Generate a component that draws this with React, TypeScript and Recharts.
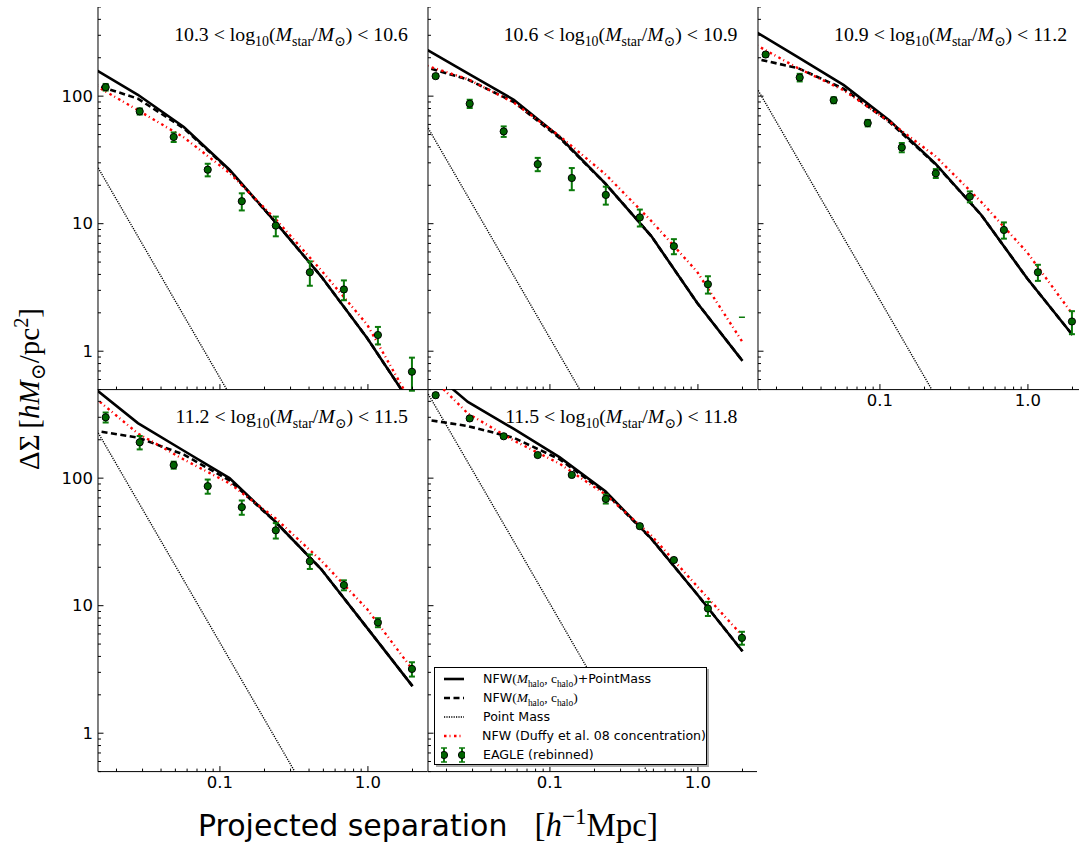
import React from 'react';
import { ComposedChart, Line, Scatter, XAxis, YAxis, ErrorBar } from 'recharts';

// ---------- data ----------
const MODEL_R = [0.0137, 0.0279, 0.057, 0.116, 0.237, 0.484, 0.987, 2.0];
const DATA_R = [0.0169, 0.0287, 0.0487, 0.0827, 0.1405, 0.2385, 0.405, 0.688, 1.168, 1.983];

const BIN_LOW = ['10.3', '10.6', '10.9', '11.2', '11.5'];
const BIN_HIGH = ['10.6', '10.9', '11.2', '11.5', '11.8'];

const P1_SOLID = [167, 102.5, 57.3, 26.5, 10.3, 3.85, 1.27, 0.37];
const P1_DASHED = [125, 95.6, 56, 26.2, 10.3, 3.85, 1.27, 0.37];
const P1_PM = [33.0, 7.95, 1.9, 0.46, 0.11];
const P1_DUFFY = [125, 77.6, 47.5, 25, 10.9, 4.3, 1.62, 0.38];
const P1_EAGLE = [117.6, 75.9, 47.8, 26.5, 15.0, 9.66, 4.16, 3.05, 1.34, 0.69];
const P1_ERR = [7, 4.2, 4.1, 3.0, 2.3, 1.7, 0.9, 0.54, 0.21, 0.2];

const P2_SOLID = [243, 150.6, 93.7, 48, 20.6, 8.0, 2.4, 0.84];
const P2_DASHED = [172, 135, 90, 47, 20.6, 8.0, 2.4, 0.84];
const P2_PM = [67.6, 16.3, 3.9, 0.94, 0.226];
const P2_DUFFY = [178, 136, 89, 48.8, 24.4, 10.5, 4.2, 1.18];
const P2_EAGLE = [143.5, 87.2, 52.9, 29.3, 22.8, 16.8, 11.2, 6.66, 3.35];
const P2_ERR = [5, 6.5, 5, 3.5, 4.5, 2.7, 1.7, 0.9, 0.52];
const P2_CAP = [{ x: 1.983, y: 1.85 }];

const P3_SOLID = [333, 202, 122, 64.5, 29.5, 11.7, 3.73, 1.34];
const P3_DASHED = [199, 166, 114, 62.6, 29.3, 11.7, 3.73, 1.34];
const P3_PM = [133.7, 32.2, 7.7, 1.87, 0.447];
const P3_DUFFY = [262, 166, 111, 63, 33.8, 14.8, 5.96, 1.95];
const P3_EAGLE = [212, 140, 93, 61.5, 39.6, 24.8, 16.3, 8.93, 4.16, 1.71];
const P3_ERR = [7, 9.6, 5, 3.6, 3.3, 2.0, 1.6, 1.3, 0.6, 0.35];

const P4_SOLID = [524, 270, 164, 100, 45.5, 19.3, 6.7, 2.34];
const P4_DASHED = [237, 208, 153, 96, 45.5, 19.3, 6.7, 2.34];
const P4_PM = [273, 65.9, 15.8, 3.81, 0.913, 0.219];
const P4_DUFFY = [445, 224, 140, 91, 48.5, 22.5, 9.4, 3.15];
const P4_EAGLE = [300, 191, 126.6, 86.5, 59.2, 39, 22.3, 14.5, 7.38, 3.19];
const P4_ERR = [27, 23, 8, 11, 7.6, 5.4, 2.9, 1.3, 0.6, 0.41];

const P5_SOLID = [795, 396, 243, 146, 79, 33.5, 12.3, 4.39];
const P5_DASHED = [291, 256, 207, 141, 77, 33.5, 12.3, 4.39];
const P5_PM = [551, 133, 31.9, 7.69, 1.84, 0.44];
const P5_DUFFY = [733, 321, 197, 130, 74.5, 35.5, 14.2, 5.8];
const P5_EAGLE = [447, 294, 213, 151.7, 106, 68.7, 42, 22.8, 9.5, 5.59];
const P5_ERR = [15, 10, 7, 5, 4, 5.5, 1.5, 0.8, 1.2, 0.65];

const X_TICKS = [0.02, 0.03, 0.04, 0.05, 0.06, 0.07, 0.08, 0.09, 0.1, 0.2, 0.3, 0.4, 0.5, 0.6, 0.7, 0.8, 0.9, 1, 2];
const X_MAJOR = [0.1, 1];
const X_MAJOR_LABELS = ['0.1', '1.0'];
const Y_TICKS = [0.5, 0.6, 0.7, 0.8, 0.9, 1, 2, 3, 4, 5, 6, 7, 8, 9, 10, 20, 30, 40, 50, 60, 70, 80, 90, 100, 200, 300, 400, 500];
const Y_MAJOR = [1, 10, 100];
const Y_MAJOR_LABELS = ['1', '10', '100'];

const X_DOMAIN = [0.015, 2.53];
const Y_DOMAIN = [0.5, 500];

// ---------- layout ----------
const COL_LEFT = [98.3, 427.9, 757.5];
const COL_W = 329.6;
const ROW_TOP = [6.5, 389.1];
const ROW_H = 382.6;
const AXW = 60;
const AXH = 30;

const TICK_FONT = "'DejaVu Sans', sans-serif";
const SERIF = "'Liberation Serif', 'DejaVu Serif', serif";

const toPts = (xs: number[], ys: number[]) => ys.map((y, i) => ({ x: xs[i], y }));
const toEagle = (ys: number[], es: number[]) => ys.map((y, i) => ({ x: DATA_R[i], y, err: es[i] }));

const XTick = (props: any) => {
  const { x, y, payload, side, showLabel } = props;
  const v = payload.value;
  const mi = X_MAJOR.findIndex((m) => Math.abs(m - v) < 1e-9);
  const len = mi >= 0 ? 5.5 : 3;
  const dir = side === 'bottom' ? -1 : 1;
  return (
    <g>
      <line x1={x} x2={x} y1={y} y2={y + dir * len} stroke="#000" strokeWidth={1} />
      {showLabel && mi >= 0 && (
        <text x={x} y={y + 11} textAnchor="middle" dominantBaseline="central" fontFamily={TICK_FONT} fontSize={16.5} fill="#000">
          {X_MAJOR_LABELS[mi]}
        </text>
      )}
    </g>
  );
};

const YTick = (props: any) => {
  const { x, y, payload, side, showLabel } = props;
  const v = payload.value;
  const mi = Y_MAJOR.findIndex((m) => Math.abs(m - v) < 1e-9);
  const len = mi >= 0 ? 5.5 : 3;
  const dir = side === 'left' ? 1 : -1;
  return (
    <g>
      <line x1={x} x2={x + dir * len} y1={y} y2={y} stroke="#000" strokeWidth={1} />
      {showLabel && mi >= 0 && (
        <text x={x - 5} y={y} textAnchor="end" dominantBaseline="central" fontFamily={TICK_FONT} fontSize={16.5} fill="#000">
          {Y_MAJOR_LABELS[mi]}
        </text>
      )}
    </g>
  );
};

const Dot = (p: any) => <circle cx={p.cx} cy={p.cy} r={3.6} fill="#006400" stroke="#000" strokeWidth={1} />;
const Cap = (p: any) => <line x1={p.cx - 3} x2={p.cx + 3} y1={p.cy} y2={p.cy} stroke="#0b7a0b" strokeWidth={1.5} />;

type PanelProps = {
  col: number;
  row: number;
  solid: number[];
  dashed: number[];
  pm: number[];
  duffy: number[];
  eagle: number[];
  err: number[];
  cap?: { x: number; y: number }[];
  showX: boolean;
  showY: boolean;
};

function Panel(props: PanelProps) {
  const { col, row, solid, dashed, pm, duffy, eagle, err, cap, showX, showY } = props;
  const left = COL_LEFT[col];
  const top = ROW_TOP[row];
  return (
    <div style={{ position: 'absolute', left: left - AXW, top }}>
      <ComposedChart width={AXW + COL_W} height={ROW_H + AXH} margin={{ top: 0, right: 0, bottom: 0, left: 0 }}>
        <XAxis
          xAxisId="b"
          type="number"
          dataKey="x"
          scale="log"
          domain={X_DOMAIN}
          allowDataOverflow
          ticks={X_TICKS}
          interval={0}
          tickSize={0}
          tickMargin={0}
          height={AXH}
          orientation="bottom"
          axisLine={{ stroke: '#000', strokeWidth: 1 }}
          tickLine={false}
          tick={(p: any) => <XTick {...p} side="bottom" showLabel={showX} />}
        />
        <XAxis
          xAxisId="t"
          type="number"
          dataKey="x"
          scale="log"
          domain={X_DOMAIN}
          allowDataOverflow
          ticks={X_TICKS}
          interval={0}
          tickSize={0}
          tickMargin={0}
          height={0}
          orientation="top"
          axisLine={{ stroke: '#000', strokeWidth: 1 }}
          tickLine={false}
          tick={(p: any) => <XTick {...p} side="top" showLabel={false} />}
        />
        <YAxis
          yAxisId="l"
          type="number"
          dataKey="y"
          scale="log"
          domain={Y_DOMAIN}
          allowDataOverflow
          ticks={Y_TICKS}
          interval={0}
          tickSize={0}
          tickMargin={0}
          width={AXW}
          orientation="left"
          axisLine={{ stroke: '#000', strokeWidth: 1 }}
          tickLine={false}
          tick={(p: any) => <YTick {...p} side="left" showLabel={showY} />}
        />
        <YAxis
          yAxisId="r"
          type="number"
          dataKey="y"
          scale="log"
          domain={Y_DOMAIN}
          allowDataOverflow
          ticks={Y_TICKS}
          interval={0}
          tickSize={0}
          tickMargin={0}
          width={0}
          orientation="right"
          axisLine={{ stroke: '#000', strokeWidth: 1 }}
          tickLine={false}
          tick={(p: any) => <YTick {...p} side="right" showLabel={false} />}
        />
        <Line xAxisId="b" yAxisId="l" data={toPts(MODEL_R, solid)} dataKey="y" type="linear" stroke="#000" strokeWidth={2.6} dot={false} isAnimationActive={false} />
        <Line xAxisId="b" yAxisId="l" data={toPts(MODEL_R, dashed)} dataKey="y" type="linear" stroke="#000" strokeWidth={2.6} strokeDasharray="6 3.5" dot={false} isAnimationActive={false} />
        <Line xAxisId="b" yAxisId="l" data={toPts(MODEL_R, pm)} dataKey="y" type="linear" stroke="#000" strokeWidth={1.4} strokeDasharray="1.2 1.2" dot={false} isAnimationActive={false} />
        <Line xAxisId="b" yAxisId="l" data={toPts(MODEL_R, duffy)} dataKey="y" type="linear" stroke="#ff0000" strokeWidth={2.4} strokeDasharray="2.5 3 1 3.5" dot={false} isAnimationActive={false} />
        <Scatter xAxisId="b" yAxisId="l" data={toEagle(eagle, err)} dataKey="y" shape={Dot} isAnimationActive={false}>
          <ErrorBar dataKey="err" direction="y" width={3} stroke="#0b7a0b" strokeWidth={2} isAnimationActive={false} />
        </Scatter>
        {cap && <Scatter xAxisId="b" yAxisId="l" data={cap} dataKey="y" shape={Cap} isAnimationActive={false} />}
      </ComposedChart>
    </div>
  );
}

const subS = { fontSize: '0.7em', lineHeight: 0 } as React.CSSProperties;

const Annotation = ({ col, row, i }: { col: number; row: number; i: number }) => {
  const right = COL_LEFT[col] + COL_W - 20;
  const cy = ROW_TOP[row] + 27;
  return (
    <div
      style={{
        position: 'absolute',
        right: 1079 - right,
        top: cy - 13,
        height: 26,
        lineHeight: '26px',
        fontFamily: SERIF,
        fontSize: 19.8,
        whiteSpace: 'nowrap',
        color: '#000',
      }}
    >
      {BIN_LOW[i]} &lt; log<sub style={subS}>10</sub>(<i>M</i>
      <sub style={subS}>star</sub>/<i>M</i>
      <sub style={subS}>⊙</sub>) &lt; {BIN_HIGH[i]}
    </div>
  );
};

const Swatch = ({ kind }: { kind: string }) => {
  if (kind === 'eagle') {
    return (
      <svg width={24} height={16} style={{ display: 'block' }}>
        {[3, 21].map((cx) => (
          <g key={cx}>
            <line x1={cx} x2={cx} y1={1} y2={15} stroke="#0b7a0b" strokeWidth={2} />
            <line x1={cx - 3} x2={cx + 3} y1={1} y2={1} stroke="#0b7a0b" strokeWidth={1.5} />
            <line x1={cx - 3} x2={cx + 3} y1={15} y2={15} stroke="#0b7a0b" strokeWidth={1.5} />
            <circle cx={cx} cy={8} r={3.6} fill="#006400" stroke="#000" strokeWidth={1} />
          </g>
        ))}
      </svg>
    );
  }
  const style: any = {
    solid: { stroke: '#000', strokeWidth: 2.6 },
    dashed: { stroke: '#000', strokeWidth: 2.6, strokeDasharray: '6 3.5' },
    pm: { stroke: '#000', strokeWidth: 1.4, strokeDasharray: '1.2 1.2' },
    duffy: { stroke: '#ff0000', strokeWidth: 2.4, strokeDasharray: '2.5 3 1 3.5' },
  }[kind];
  return (
    <svg width={24} height={16} style={{ display: 'block' }}>
      <line x1={3} x2={23} y1={8} y2={8} {...style} />
    </svg>
  );
};

const LegendRow = ({ kind, children }: { kind: string; children: React.ReactNode }) => (
  <div style={{ display: 'flex', alignItems: 'center', height: 19.1 }}>
    <div style={{ width: 42, display: 'flex', paddingLeft: 6 }}>
      <Swatch kind={kind} />
    </div>
    <div style={{ whiteSpace: 'nowrap' }}>{children}</div>
  </div>
);

const Legend = () => (
  <div
    style={{
      position: 'absolute',
      left: 434,
      top: 667,
      width: 273,
      height: 98,
      boxSizing: 'border-box',
      border: '1px solid #000',
      background: '#fff',
      boxShadow: '2px 2px 0 #aaa',
      fontFamily: TICK_FONT,
      fontSize: 12.6,
      paddingTop: 1,
      color: '#000',
    }}
  >
    <LegendRow kind="solid">
      NFW<span style={{ fontFamily: SERIF, fontSize: 13.5 }}>(<i>M</i><sub style={subS}>halo</sub>, c<sub style={subS}>halo</sub>)</span>+PointMass
    </LegendRow>
    <LegendRow kind="dashed">
      NFW<span style={{ fontFamily: SERIF, fontSize: 13.5 }}>(<i>M</i><sub style={subS}>halo</sub>, c<sub style={subS}>halo</sub>)</span>
    </LegendRow>
    <LegendRow kind="pm">Point Mass</LegendRow>
    <LegendRow kind="duffy">NFW (Duffy et al. 08 concentration)</LegendRow>
    <LegendRow kind="eagle">EAGLE (rebinned)</LegendRow>
  </div>
);

export default function App() {
  return (
    <div style={{ position: 'absolute', left: 0, top: 0, width: 1079, height: 843, overflow: 'hidden', background: '#fff' }}>
      <Panel col={0} row={0} solid={P1_SOLID} dashed={P1_DASHED} pm={P1_PM} duffy={P1_DUFFY} eagle={P1_EAGLE} err={P1_ERR} showX={false} showY={true} />
      <Panel col={1} row={0} solid={P2_SOLID} dashed={P2_DASHED} pm={P2_PM} duffy={P2_DUFFY} eagle={P2_EAGLE} err={P2_ERR} cap={P2_CAP} showX={false} showY={false} />
      <Panel col={2} row={0} solid={P3_SOLID} dashed={P3_DASHED} pm={P3_PM} duffy={P3_DUFFY} eagle={P3_EAGLE} err={P3_ERR} showX={true} showY={false} />
      <Panel col={0} row={1} solid={P4_SOLID} dashed={P4_DASHED} pm={P4_PM} duffy={P4_DUFFY} eagle={P4_EAGLE} err={P4_ERR} showX={true} showY={true} />
      <Panel col={1} row={1} solid={P5_SOLID} dashed={P5_DASHED} pm={P5_PM} duffy={P5_DUFFY} eagle={P5_EAGLE} err={P5_ERR} showX={true} showY={false} />

      <Annotation col={0} row={0} i={0} />
      <Annotation col={1} row={0} i={1} />
      <Annotation col={2} row={0} i={2} />
      <Annotation col={0} row={1} i={3} />
      <Annotation col={1} row={1} i={4} />

      <Legend />

      <div
        style={{
          position: 'absolute',
          left: 29,
          top: 389,
          transform: 'translate(-50%, -50%) rotate(-90deg)',
          fontFamily: SERIF,
          fontSize: 29,
          whiteSpace: 'nowrap',
          lineHeight: 1,
          color: '#000',
        }}
      >
        ΔΣ&thinsp;[<i>hM</i><sub style={subS}>⊙</sub>/pc<sup style={subS}>2</sup>]
      </div>

      <div
        style={{
          position: 'absolute',
          left: 428,
          top: 825,
          transform: 'translate(-50%, -50%)',
          whiteSpace: 'nowrap',
          lineHeight: 1,
          color: '#000',
        }}
      >
        <span style={{ fontFamily: TICK_FONT, fontSize: 30 }}>Projected separation</span>
        <span style={{ display: 'inline-block', width: 27 }} />
        <span style={{ fontFamily: SERIF, fontSize: 33 }}>
          [<i>h</i><sup style={subS}>−1</sup>Mpc]
        </span>
      </div>
    </div>
  );
}
